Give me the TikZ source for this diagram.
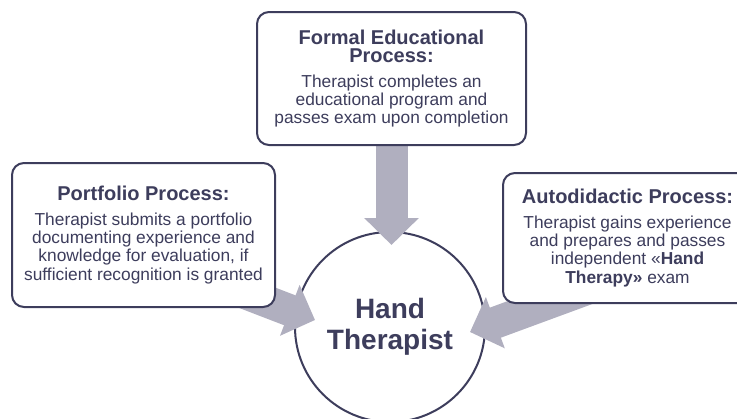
\documentclass[tikz,border=0pt]{standalone}
\usepackage{fontspec}
\setmainfont{Liberation Sans}
\usetikzlibrary{arrows.meta}
\definecolor{inkdark}{HTML}{3D3D5C}
\definecolor{arrowgray}{HTML}{B0AFBF}
\newcommand{\titlefont}{\fontsize{15}{16}\selectfont\bfseries}
\pgfdeclarelayer{bg}
\pgfdeclarelayer{mid}
\pgfsetlayers{bg,mid,main}

\begin{document}
\begin{tikzpicture}[x=0.75pt,y=-0.75pt,
  procbox/.style={draw=inkdark, line width=1.5pt, fill=white, rounded corners=9pt,
    align=center, text=inkdark, inner sep=0pt, font={\fontsize{13}{13.6}\selectfont}},
  fatarrow/.style={draw=arrowgray, line width=24pt,
    -{Triangle[length=20.25pt,width=39.75pt]}}]
\useasboundingbox (0,0) rectangle (737,418);

\begin{pgfonlayer}{bg}
\node[circle, draw=inkdark, line width=1.5pt, fill=white, minimum size=142.5pt,
  inner sep=0pt, align=center, text=inkdark,
  font={\fontsize{21}{23.5}\selectfont\bfseries}] (hand) at (390,327) {Hand\\Therapist};
\end{pgfonlayer}

\node[procbox, minimum width=201.75pt, minimum height=99.75pt] (formal) at (391.5,78.5) {%
{\titlefont Formal Educational}\\
{\titlefont Process:}\\[5pt]
Therapist completes an\\
educational program and\\
passes exam upon completion};
\node[procbox, minimum width=197.25pt, minimum height=108pt] (portfolio) at (143.5,235) {%
{\titlefont Portfolio Process:}\\[5pt]
Therapist submits a portfolio\\
documenting experience and\\
knowledge for evaluation, if\\
sufficient recognition is granted};
\node[procbox, minimum width=186.75pt, minimum height=97.5pt] (autodidactic) at (627.5,238) {%
{\titlefont Autodidactic Process:}\\[5pt]
Therapist gains experience\\
and prepares and passes\\
independent «\textbf{Hand}\\
\textbf{Therapy»} exam};

% arrows into the circle
\coordinate (formaltip) at (391.5,245);
\coordinate (portfoliotip) at (315,320);
\coordinate (autotip) at (470,332);
\begin{pgfonlayer}{mid}
\draw[fatarrow] (formal.center) -- (formaltip);
\draw[fatarrow] ([yshift=-14.25pt]portfolio.center) -- (portfoliotip);
\draw[fatarrow] ([yshift=-27pt]autodidactic.center) -- (autotip);
\end{pgfonlayer}
\end{tikzpicture}
\end{document}
